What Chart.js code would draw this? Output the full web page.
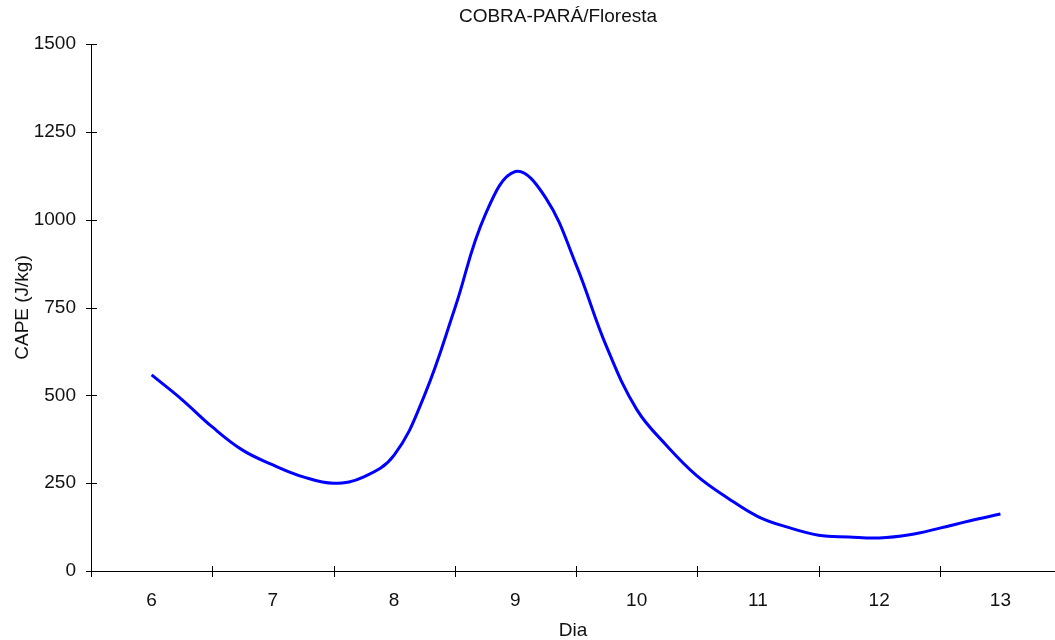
<!DOCTYPE html>
<html>
<head>
<meta charset="utf-8">
<script src="https://cdn.jsdelivr.net/npm/chart.js@4.4.0/dist/chart.umd.min.js"></script>
<style>
  html, body { margin: 0; padding: 0; background: #fff; }
  #wrap { width: 1055px; height: 640px; }
</style>
</head>
<body>
<div id="wrap"><canvas id="c" width="1055" height="640"></canvas></div>
<script>
// CAPE, six-hourly samples (day of month, J/kg)
const dayTimes = [6.00, 6.25, 6.50, 6.75, 7.00, 7.25, 7.50, 7.75, 8.00, 8.25, 8.50, 8.75,
  9.00, 9.25, 9.50, 9.75, 10.00, 10.25, 10.50, 10.75, 11.00, 11.25, 11.50, 11.75,
  12.00, 12.25, 12.50, 12.75, 13.00];
const capeValues = [558, 488, 410, 344, 302, 268, 250, 268, 330, 500, 747, 1013,
  1137, 1062, 872, 640, 460, 356, 270, 208, 155, 124, 102, 97,
  94, 103, 122, 143, 162];
const dayLabels = [6, 7, 8, 9, 10, 11, 12, 13];
const capeTicks = [0, 250, 500, 750, 1000, 1250, 1500];

const chartTitle = 'COBRA-PARÁ/Floresta';
const xTitle = 'Dia';
const yTitle = 'CAPE (J/kg)';

const FONT = '"Liberation Sans", Arial, Helvetica, sans-serif';
const TEXT = '#111';
const FS = 19;

const points = dayTimes.map((d, i) => ({ x: d, y: capeValues[i] }));

// Short tick marks crossing each axis line, plus the centred heading
const axisDecor = {
  id: 'axisDecor',
  afterDraw(chart) {
    const { ctx, chartArea, scales } = chart;
    const xs = scales.x, ys = scales.y;
    ctx.save();
    ctx.strokeStyle = '#000';
    ctx.lineWidth = 1;
    ctx.beginPath();
    // category boundaries on the day axis
    dayLabels.forEach(d => {
      const px = Math.round(xs.getPixelForValue(d - 0.5)) + 0.5;
      ctx.moveTo(px, chartArea.bottom - 5);
      ctx.lineTo(px, chartArea.bottom + 6);
    });
    capeTicks.forEach(v => {
      const py = Math.round(ys.getPixelForValue(v)) + 0.5;
      ctx.moveTo(chartArea.left - 5, py);
      ctx.lineTo(chartArea.left + 6, py);
    });
    ctx.stroke();

    ctx.fillStyle = TEXT;
    ctx.font = FS + 'px ' + FONT;
    ctx.textAlign = 'center';
    ctx.textBaseline = 'middle';
    ctx.fillText(chartTitle, 558, 17);
    ctx.restore();
  }
};

new Chart(document.getElementById('c'), {
  type: 'line',
  data: {
    datasets: [{
      data: points,
      borderColor: '#0000ff',
      borderWidth: 3,
      pointRadius: 0,
      fill: false,
      tension: 0.4
    }]
  },
  options: {
    responsive: false,
    animation: false,
    devicePixelRatio: 1,
    layout: { padding: { top: 44, right: 0, bottom: 0, left: 0 } },
    plugins: {
      legend: { display: false },
      title: { display: false },
      tooltip: { enabled: false }
    },
    scales: {
      x: {
        type: 'linear',
        min: 5.5,
        max: 13.45,
        afterBuildTicks(scale) { scale.ticks = dayLabels.map(v => ({ value: v })); },
        afterFit(scale) { scale.height = 69; },
        grid: { display: false, drawTicks: false },
        border: { display: true, color: '#000', width: 1 },
        ticks: {
          color: TEXT,
          font: { family: FONT, size: FS },
          padding: 18,
          maxRotation: 0,
          autoSkip: false,
          callback: v => String(v)
        },
        title: {
          display: true,
          text: xTitle,
          color: TEXT,
          font: { family: FONT, size: FS, lineHeight: 1 },
          padding: { top: 0, bottom: 0 }
        }
      },
      y: {
        type: 'linear',
        min: 0,
        max: 1500,
        afterBuildTicks(scale) { scale.ticks = capeTicks.map(v => ({ value: v })); },
        afterFit(scale) { scale.width = 91; },
        grid: { display: false, drawTicks: false },
        border: { display: true, color: '#000', width: 1 },
        ticks: {
          color: TEXT,
          font: { family: FONT, size: FS },
          padding: 15,
          autoSkip: false,
          callback: v => String(v)
        },
        title: {
          display: true,
          text: yTitle,
          color: TEXT,
          font: { family: FONT, size: FS, lineHeight: 1 },
          padding: { top: 13, bottom: 0 }
        }
      }
    }
  },
  plugins: [axisDecor]
});
</script>
</body>
</html>
